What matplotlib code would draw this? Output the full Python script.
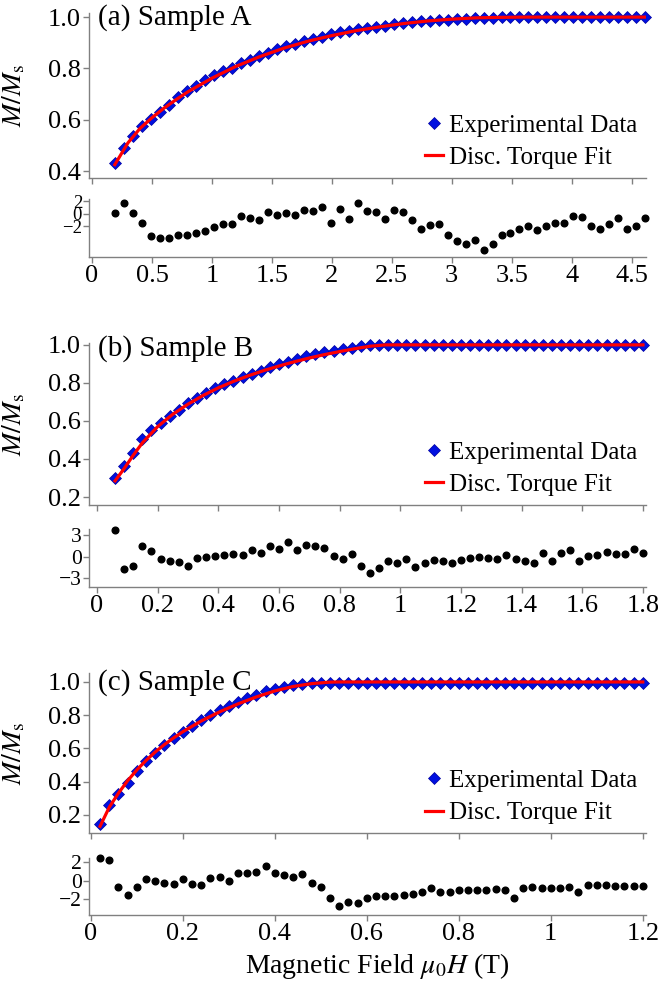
import matplotlib
matplotlib.use('Agg')
import matplotlib.pyplot as plt
import numpy as np

plt.rcParams['font.family'] = ['Liberation Serif', 'DejaVu Serif']
plt.rcParams['mathtext.fontset'] = 'stix'

# ---------------- Sample A ----------------
field_a = np.round(0.19 + 0.075 * np.arange(60), 3)
mag_a = [0.43, 0.49, 0.535, 0.574, 0.603, 0.63, 0.658, 0.688, 0.712, 0.731,
         0.754, 0.773, 0.79, 0.803, 0.82, 0.834, 0.849, 0.862, 0.876, 0.886,
         0.895, 0.906, 0.915, 0.924, 0.933, 0.941, 0.946, 0.953, 0.958, 0.963,
         0.967, 0.972, 0.978, 0.98, 0.983, 0.984, 0.987, 0.99, 0.991, 0.993,
         0.996, 0.996, 0.996, 0.999, 0.999, 0.999, 0.999, 0.999, 0.999, 0.999,
         0.999, 0.999, 0.999, 0.999, 0.999, 0.999, 0.999, 0.999, 0.999, 0.999]
resid_a = [0.2, 1.8, 0.2, -1.4, -3.55, -3.9, -3.9, -3.4, -3.3, -3.1,
           -2.7, -2.05, -1.65, -1.6, -0.3, -0.7, -0.95, 0.3, -0.1, 0.1,
           -0.1, 0.7, 0.4, 1.05, -1.4, 0.75, -0.85, 1.8, 0.4, 0.35,
           -0.8, 0.65, 0.35, -1.0, -2.4, -1.8, -1.6, -3.45, -4.4, -4.75,
           -4.1, -5.7, -4.8, -3.4, -3.0, -2.4, -2.0, -2.6, -1.95, -1.4,
           -1.4, -0.3, -0.45, -2.0, -2.4, -1.6, -0.7, -2.4, -1.95, -0.6]
fit_field_a = [0.19, 0.3, 0.4, 0.5, 0.6, 0.7, 0.8, 1.0, 1.2, 1.4, 1.6, 1.8,
               2.0, 2.2, 2.4, 2.6, 2.8, 3.0, 3.2, 3.4, 3.6, 4.615]
fit_a = [0.425, 0.51, 0.566, 0.608, 0.645, 0.678, 0.709, 0.762, 0.808, 0.846,
         0.879, 0.906, 0.928, 0.947, 0.962, 0.975, 0.985, 0.992, 0.997, 0.999,
         1.0, 1.0]

# ---------------- Sample B ----------------
field_b = np.round(0.06 + 0.03 * np.arange(59), 3)
mag_b = [0.30, 0.362, 0.433, 0.504, 0.552, 0.587, 0.628, 0.658, 0.692, 0.72,
         0.747, 0.773, 0.794, 0.809, 0.83, 0.848, 0.865, 0.883, 0.897, 0.911,
         0.927, 0.94, 0.95, 0.961, 0.968, 0.979, 0.986, 0.993, 0.998, 1.0,
         1.0, 1.0, 1.0, 1.0, 1.0, 1.0, 1.0, 1.0, 1.0, 1.0,
         1.0, 1.0, 1.0, 1.0, 1.0, 1.0, 1.0, 1.0, 1.0, 1.0,
         1.0, 1.0, 1.0, 1.0, 1.0, 1.0, 1.0, 1.0, 1.0]
resid_b = [3.7, -1.7, -1.2, 1.5, 0.8, -0.3, -0.6, -0.7, -1.3, -0.1,
           0.0, 0.1, 0.2, 0.4, 0.2, 0.9, 0.6, 1.5, 1.1, 2.1,
           1.0, 1.6, 1.5, 1.3, 0.1, -0.3, 0.4, -1.3, -2.3, -1.5,
           -0.6, -0.8, -0.3, -1.4, -0.9, -0.4, -0.6, -0.9, -0.4, -0.2,
           -0.05, -0.2, -0.3, 0.3, -0.25, -0.5, -0.8, 0.5, -0.5, 0.5,
           0.9, -0.5, 0.1, 0.3, 0.7, 0.4, 0.4, 1.1, 0.55]
fit_field_b = [0.06, 0.09, 0.12, 0.15, 0.2, 0.25, 0.3, 0.35, 0.4, 0.45, 0.5,
               0.55, 0.6, 0.65, 0.7, 0.75, 0.8, 0.85, 0.9, 0.95, 1.80]
fit_b = [0.285, 0.35, 0.42, 0.485, 0.57, 0.635, 0.688, 0.734, 0.774, 0.808,
         0.838, 0.865, 0.889, 0.911, 0.931, 0.949, 0.965, 0.98, 0.993, 1.0, 1.0]

# ---------------- Sample C ----------------
field_c = np.round(0.02 * np.arange(1, 61), 3)
mag_c = [0.144, 0.257, 0.323, 0.391, 0.463, 0.526, 0.574, 0.622, 0.662, 0.701,
         0.735, 0.769, 0.799, 0.829, 0.855, 0.881, 0.904, 0.924, 0.944, 0.96,
         0.972, 0.982, 0.988, 0.992, 0.994, 0.995, 0.994, 0.994, 0.994, 0.994,
         0.994, 0.994, 0.994, 0.994, 0.994, 0.994, 0.994, 0.994, 0.994, 0.994,
         0.994, 0.994, 0.994, 0.994, 0.994, 0.994, 0.994, 0.994, 0.994, 0.994,
         0.994, 0.994, 0.994, 0.994, 0.994, 0.994, 0.994, 0.994, 0.994, 0.994]
resid_c = [2.45, 2.2, -0.65, -1.5, -0.65, 0.2, 0.0, -0.2, -0.35, 0.2,
           -0.4, -0.45, 0.25, 0.4, -0.05, 0.8, 0.8, 0.95, 1.6, 0.8,
           0.6, 0.4, 0.75, -0.3, -0.7, -1.85, -2.7, -2.35, -2.45, -1.9,
           -1.65, -1.65, -1.6, -1.55, -1.4, -1.2, -0.8, -1.2, -1.25, -1.0,
           -1.0, -1.0, -0.95, -0.9, -1.0, -1.9, -0.8, -0.7, -0.75, -0.8,
           -0.75, -0.65, -1.2, -0.5, -0.5, -0.5, -0.55, -0.6, -0.6, -0.55]
fit_field_c = [0.02, 0.04, 0.06, 0.08, 0.1, 0.12, 0.14, 0.16, 0.18, 0.2, 0.24,
               0.28, 0.32, 0.36, 0.4, 0.44, 0.48, 0.52, 0.54, 1.2]
fit_c = [0.13, 0.245, 0.33, 0.405, 0.47, 0.527, 0.578, 0.623, 0.663, 0.70,
         0.765, 0.82, 0.868, 0.91, 0.946, 0.973, 0.99, 0.999, 1.0, 1.0]

W, H = 658, 988
SPINE = '#808080'


def px_axes(fig, top, bottom, left=89, right=646):
    # axes placed from pixel edges (top-left origin)
    return fig.add_axes([left / W, 1 - bottom / H, (right - left) / W, (bottom - top) / H])


def style_axes(ax, labelsize=19):
    for s in ['top', 'right']:
        ax.spines[s].set_visible(False)
    for s in ['left', 'bottom']:
        ax.spines[s].set_color(SPINE)
        ax.spines[s].set_linewidth(1.0)
    ax.tick_params(direction='out', length=4, width=1, color=SPINE,
                   labelsize=labelsize, pad=2)


def plot_panel(fig, tops, field, mag, fit_field, fit, resid, xlim, xticks,
               ylim, yticks, rlim, rticks, name, title_y, rsize=15.5):
    ax = px_axes(fig, tops[0], tops[1])
    style_axes(ax)
    ax.plot(fit_field, fit, color='#ff0000', lw=2.3, zorder=3, label='Disc. Torque Fit')
    ax.plot(field, mag, 'D', color='#0010e0', mec='#0000a0', mew=0.5, ms=6.5,
            ls='none', zorder=2, clip_on=False, label='Experimental Data')
    ax.set_xlim(xlim)
    ax.set_ylim(ylim)
    ax.set_xticks(xticks)
    ax.set_xticklabels([])
    ax.set_yticks(yticks)
    ax.set_yticklabels(['%.1f' % v for v in yticks])
    ax.set_ylabel(r'$M/M_\mathrm{s}$', fontsize=20)
    ax.yaxis.set_label_coords(-0.11, 0.5)
    ax.text(0.016, title_y, name, transform=ax.transAxes, fontsize=21,
            ha='left', va='center')
    handles, labels = ax.get_legend_handles_labels()
    ax.legend(handles[::-1], labels[::-1], loc='lower right', frameon=False,
              fontsize=18, handlelength=0.7, handletextpad=0.25,
              labelspacing=0.4, borderaxespad=0.15, borderpad=0.2)

    rx = px_axes(fig, tops[2], tops[3])
    style_axes(rx)
    rx.plot(field, resid, 'o', color='black', ms=4.8, ls='none', clip_on=False)
    rx.set_xlim(xlim)
    rx.set_ylim(rlim)
    rx.set_xticks(xticks)
    rx.set_xticklabels(['%g' % v for v in xticks])
    rx.set_yticks(rticks)
    rx.set_yticklabels([('\u2212%d' % -v) if v < 0 else '%d' % v for v in rticks],
                       fontsize=rsize)
    rx.tick_params(axis='y', pad=1)
    return ax, rx


fig = plt.figure(figsize=(W / 100, H / 100), dpi=100)

plot_panel(fig, (13, 178, 199, 257), field_a, mag_a, fit_field_a, fit_a, resid_a,
           (-0.025, 4.62), [0, 0.5, 1, 1.5, 2, 2.5, 3, 3.5, 4, 4.5],
           (0.373, 1.016), [0.4, 0.6, 0.8, 1.0], (-6.9, 2.4), [-2, 0, 2],
           '(a) Sample A', 0.97, rsize=13.5)

plot_panel(fig, (343, 505, 529, 587), field_b, mag_b, fit_field_b, fit_b, resid_b,
           (-0.026, 1.81), [0, 0.2, 0.4, 0.6, 0.8, 1, 1.2, 1.4, 1.6, 1.8],
           (0.158, 1.01), [0.2, 0.4, 0.6, 0.8, 1.0], (-4.2, 3.9), [-3, 0, 3],
           '(b) Sample B', 0.963)

plot_panel(fig, (673, 833, 858, 915), field_c, mag_c, fit_field_c, fit_c, resid_c,
           (-0.004, 1.207), [0, 0.2, 0.4, 0.6, 0.8, 1, 1.2],
           (0.09, 1.054), [0.2, 0.4, 0.6, 0.8, 1.0], (-3.7, 2.45), [-2, 0, 2],
           '(c) Sample C', 0.9375)

fig.text(377 / W, 1 - 966 / H, r'Magnetic Field $\mu_0H$ (T)', fontsize=20,
         ha='center', va='center')

plt.savefig('out.png', dpi=100)
